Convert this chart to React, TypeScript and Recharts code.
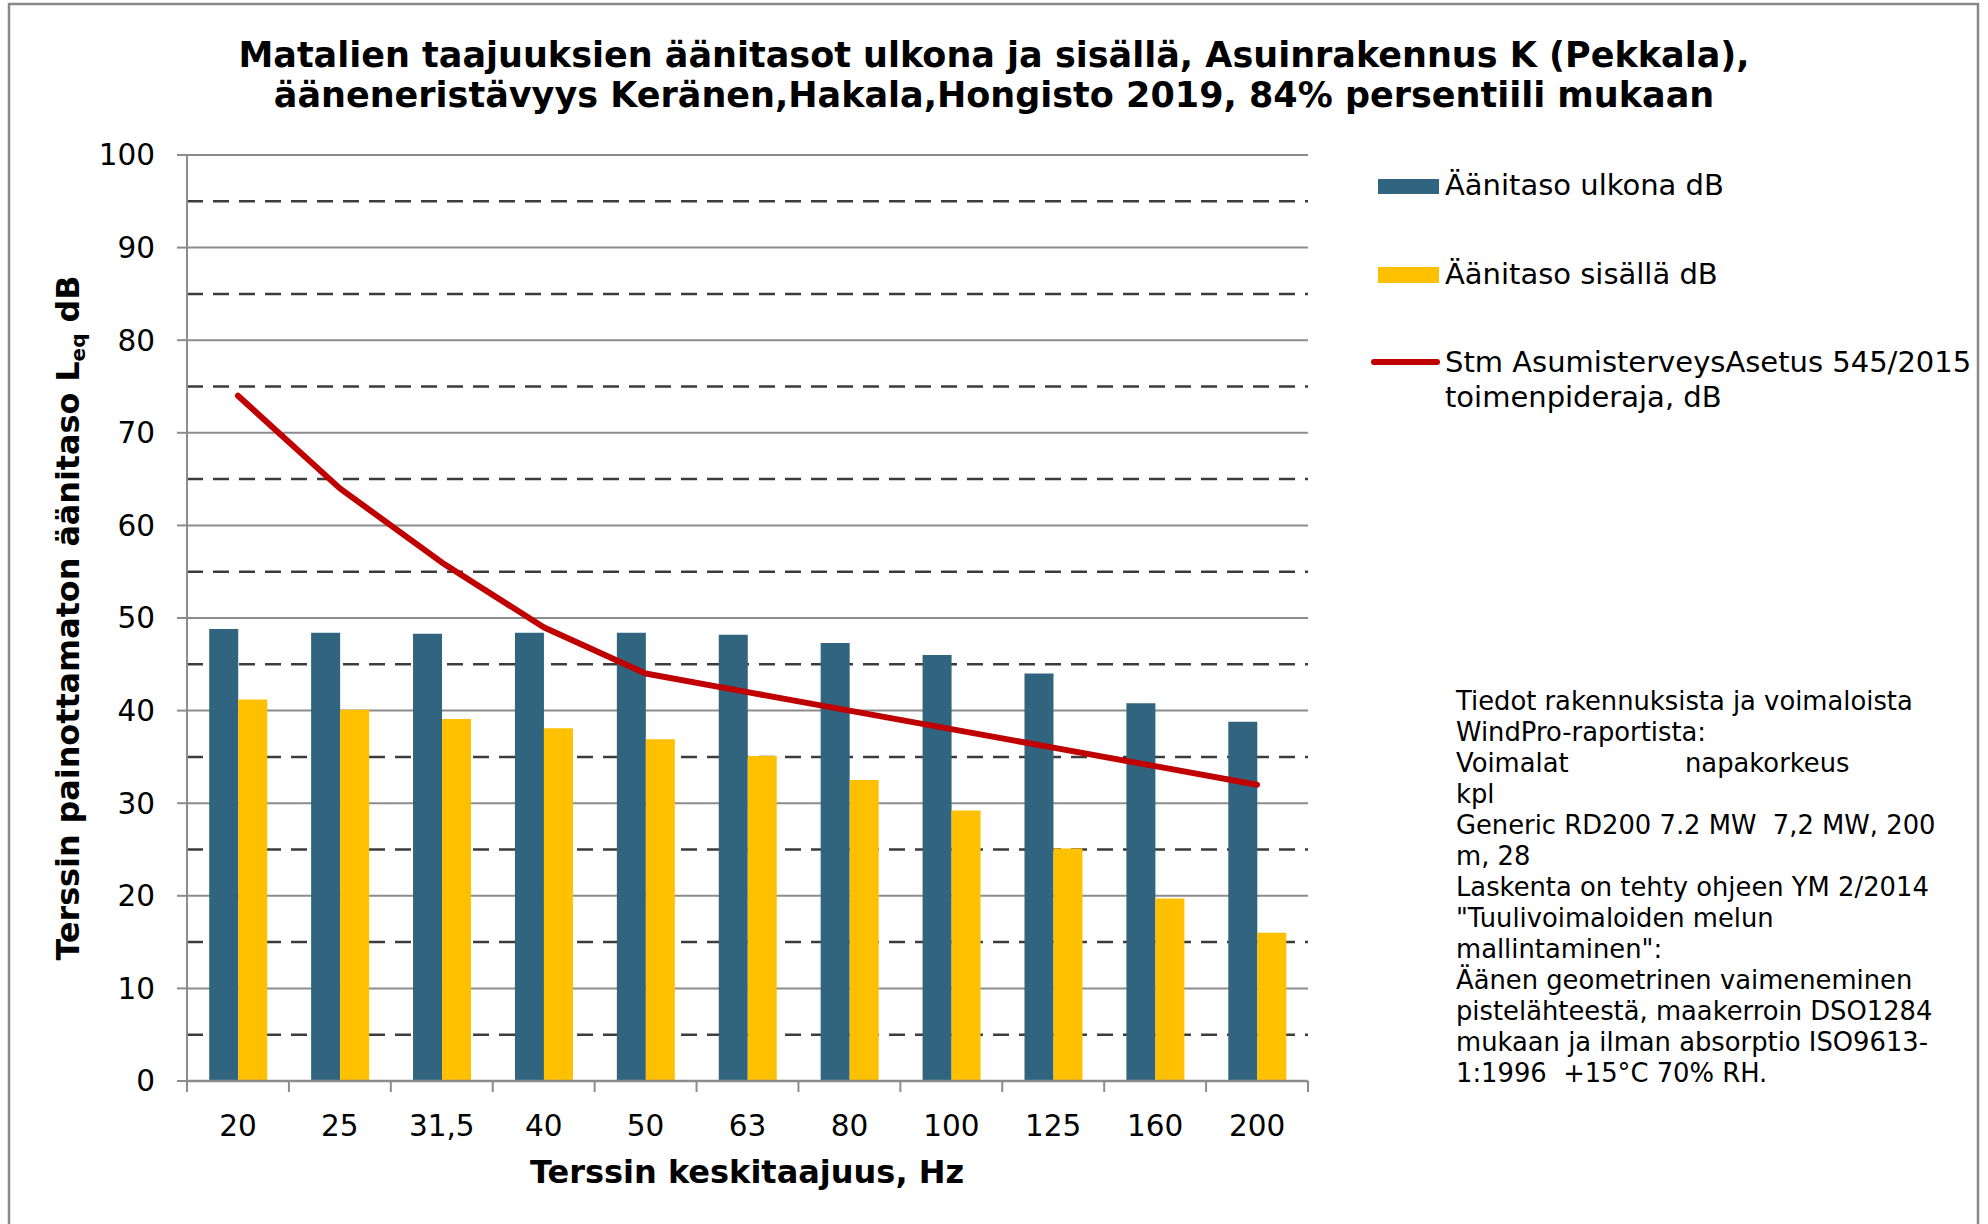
import React from 'react';
import { ComposedChart, Bar, Line, XAxis, YAxis, CartesianGrid } from 'recharts';

const categories = ['20', '25', '31,5', '40', '50', '63', '80', '100', '125', '160', '200'];
const outdoorLevels = [48.8, 48.4, 48.3, 48.4, 48.4, 48.2, 47.3, 46.0, 44.0, 40.8, 38.8];
const indoorLevels = [41.2, 40.1, 39.1, 38.1, 36.9, 35.1, 32.5, 29.2, 25.1, 19.7, 16.0];
const limitLevels = [74, 64, 56, 49, 44, 42, 40, 38, 36, 34, 32];
const majorTicks = [0, 10, 20, 30, 40, 50, 60, 70, 80, 90, 100];
const minorTicks = [5, 15, 25, 35, 45, 55, 65, 75, 85, 95];

const titleLines = [
  'Matalien taajuuksien äänitasot ulkona ja sisällä, Asuinrakennus K (Pekkala),',
  'ääneneristävyys Keränen,Hakala,Hongisto 2019, 84% persentiili mukaan',
];
const legendOutdoor = 'Äänitaso ulkona dB';
const legendIndoor = 'Äänitaso sisällä dB';
const legendLimit = ['Stm AsumisterveysAsetus 545/2015', 'toimenpideraja, dB'];
const noteLines = [
  'Tiedot rakennuksista ja voimaloista',
  'WindPro-raportista:',
  '__SPLIT__',
  'kpl',
  'Generic RD200 7.2 MW  7,2 MW, 200',
  'm, 28',
  'Laskenta on tehty ohjeen YM 2/2014',
  '"Tuulivoimaloiden melun',
  'mallintaminen":',
  'Äänen geometrinen vaimeneminen',
  'pistelähteestä, maakerroin DSO1284',
  'mukaan ja ilman absorptio ISO9613-',
  '1:1996  +15°C 70% RH.',
];

const data = categories.map((c, i) => ({
  freq: c,
  outdoor: outdoorLevels[i],
  indoor: indoorLevels[i],
  limit: limitLevels[i],
}));

const W = 1988;
const H = 1224;
const MARGIN = { top: 155, right: 680, bottom: 83, left: 107 };
const Y_AXIS_W = 80;
const X_AXIS_H = 60;
const PLOT_W = W - MARGIN.left - Y_AXIS_W - MARGIN.right;
const HALF_BAND = PLOT_W / categories.length / 2;

const FONT = '"DejaVu Sans", Verdana, sans-serif';
const BLUE = '#31647F';
const YELLOW = '#FFC000';
const RED = '#C00000';
const AXIS_GRAY = '#8C8C8C';

const XTick = (props: any) => {
  const { x, y, payload, index } = props;
  const last = index === categories.length - 1;
  return (
    <g>
      <line x1={x - HALF_BAND} x2={x - HALF_BAND} y1={y} y2={y + 11} stroke={AXIS_GRAY} strokeWidth={2} />
      {last && <line x1={x + HALF_BAND} x2={x + HALF_BAND} y1={y} y2={y + 11} stroke={AXIS_GRAY} strokeWidth={2} />}
      <text x={x} y={y + 55} textAnchor="middle" fontFamily={FONT} fontSize={29.5} fill="#000">
        {payload.value}
      </text>
    </g>
  );
};

export default function App() {
  return (
    <div style={{ position: 'absolute', left: 0, top: 0, width: W, height: H, background: '#fff' }}>
      <ComposedChart
        width={W}
        height={H}
        data={data}
        margin={MARGIN}
        barCategoryGap="21.8%"
        barGap={0}
      >
        <CartesianGrid
          vertical={false}
          horizontalValues={minorTicks}
          stroke="#3C3C3C"
          strokeWidth={2.5}
          strokeDasharray="16 10"
        />
        <CartesianGrid vertical={false} horizontalValues={majorTicks} stroke={AXIS_GRAY} strokeWidth={2} />
        <XAxis
          dataKey="freq"
          height={X_AXIS_H}
          interval={0}
          tickSize={0}
          tickMargin={0}
          tickLine={false}
          axisLine={{ stroke: AXIS_GRAY, strokeWidth: 2.5 }}
          tick={<XTick />}
        />
        <YAxis
          width={Y_AXIS_W}
          domain={[0, 100]}
          ticks={majorTicks}
          interval={0}
          tickSize={10}
          tickMargin={22}
          tickLine={{ stroke: AXIS_GRAY, strokeWidth: 2 }}
          axisLine={{ stroke: AXIS_GRAY, strokeWidth: 2 }}
          tick={{ fontFamily: FONT, fontSize: 29.5, fill: '#000' }}
        />
        <Bar dataKey="outdoor" fill={BLUE} isAnimationActive={false} />
        <Bar dataKey="indoor" fill={YELLOW} isAnimationActive={false} />
        <Line
          type="linear"
          dataKey="limit"
          stroke={RED}
          strokeWidth={6}
          strokeLinecap="round"
          strokeLinejoin="round"
          dot={false}
          activeDot={false}
          isAnimationActive={false}
        />
      </ComposedChart>
      <svg
        width={W}
        height={H}
        style={{ position: 'absolute', left: 0, top: 0, pointerEvents: 'none' }}
        fontFamily={FONT}
      >
        <rect x={9} y={4} width={1969} height={1260} fill="none" stroke="#888" strokeWidth={2.5} />
        {titleLines.map((t, i) => (
          <text key={i} x={994} y={67 + i * 40} textAnchor="middle" fontWeight="bold" fontSize={35} fill="#000">
            {t}
          </text>
        ))}
        <text
          transform="translate(79,618) rotate(-90)"
          textAnchor="middle"
          fontWeight="bold"
          fontSize={31.8}
          fill="#000"
        >
          Terssin painottamaton äänitaso L
          <tspan fontSize={20} dy={6}>eq</tspan>
          <tspan dy={-6}> dB</tspan>
        </text>
        <text x={747} y={1183} textAnchor="middle" fontWeight="bold" fontSize={32} fill="#000">
          Terssin keskitaajuus, Hz
        </text>
        <rect x={1378} y={179} width={61} height={15} fill={BLUE} />
        <text x={1445} y={195} fontSize={29} fill="#000">{legendOutdoor}</text>
        <rect x={1378} y={267} width={61} height={16} fill={YELLOW} />
        <text x={1445} y={284} fontSize={29} fill="#000">{legendIndoor}</text>
        <line x1={1374} x2={1437} y1={362} y2={362} stroke={RED} strokeWidth={6} strokeLinecap="round" />
        {legendLimit.map((t, i) => (
          <text key={i} x={1445} y={372 + i * 35} fontSize={29} fill="#000">{t}</text>
        ))}
        {noteLines.map((t, i) =>
          t === '__SPLIT__' ? (
            <text key={i} y={710 + i * 31} fontSize={25.8} fill="#000">
              <tspan x={1456}>Voimalat</tspan>
              <tspan x={1685}>napakorkeus</tspan>
            </text>
          ) : (
            <text key={i} x={1456} y={710 + i * 31} fontSize={25.8} fill="#000" style={{ whiteSpace: 'pre' }}>
              {t}
            </text>
          )
        )}
      </svg>
    </div>
  );
}
